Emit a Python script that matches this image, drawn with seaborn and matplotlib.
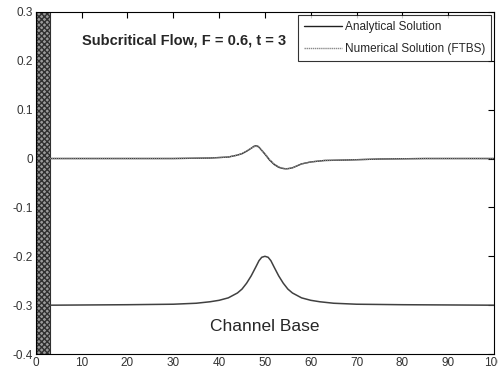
import numpy as np
import pandas as pd
import matplotlib
matplotlib.use("Agg")
import matplotlib.pyplot as plt
import seaborn as sns
from matplotlib.ticker import FuncFormatter

# Channel base (bed) profile
bed_x = [3, 20, 30, 35, 38, 40, 42, 44, 45, 46, 47, 48, 48.7, 49.3, 50,
         50.7, 51.3, 52, 53, 54, 55, 56, 58, 60, 62, 65, 70, 80, 100]
bed_y = [-0.300, -0.299, -0.298, -0.296, -0.293, -0.290, -0.285, -0.275, -0.267,
         -0.255, -0.240, -0.222, -0.209, -0.202, -0.200, -0.202, -0.209, -0.222,
         -0.240, -0.255, -0.267, -0.275, -0.285, -0.290, -0.293, -0.296, -0.298,
         -0.299, -0.300]

# Free surface perturbation
surf_x = [3, 30, 38, 42, 44, 45, 46, 47, 47.6, 48, 48.5, 49, 50, 51, 52, 53, 54,
          54.6, 55.2, 56, 57, 58, 60, 63, 68, 75, 85, 100]
analytical_y = [0.0, 0.0, 0.001, 0.003, 0.007, 0.010, 0.015, 0.021, 0.025, 0.026,
                0.025, 0.020, 0.009, -0.003, -0.012, -0.018, -0.0205, -0.021,
                -0.0205, -0.019, -0.015, -0.011, -0.007, -0.004, -0.003, -0.001,
                0.0, 0.0]
numerical_y = [0.0, 0.0, 0.001, 0.003, 0.007, 0.010, 0.015, 0.021, 0.024, 0.025,
               0.024, 0.020, 0.010, -0.002, -0.011, -0.017, -0.020, -0.021,
               -0.0205, -0.019, -0.015, -0.011, -0.007, -0.004, -0.003, -0.001,
               0.0, 0.0]

xticks = list(range(0, 101, 10))
yticks = [-0.4, -0.3, -0.2, -0.1, 0.0, 0.1, 0.2, 0.3]

sns.set_style("white")
plt.rcParams['font.family'] = ['Liberation Sans', 'DejaVu Sans']

fig = plt.figure(figsize=(4.98, 3.70), dpi=100)
ax = fig.add_axes([0.072, 0.043, 0.920, 0.925])

# wall
ax.axvspan(0, 3, facecolor='#9a9a9a', edgecolor='#303030', hatch='xxxxxx', linewidth=0.8, zorder=1)

df_surf = pd.DataFrame({'x': surf_x, 'Analytical Solution': analytical_y,
                        'Numerical Solution (FTBS)': numerical_y})
sns.lineplot(x='x', y='Analytical Solution', data=df_surf, ax=ax, color='#202020',
             linewidth=1.0, label='Analytical Solution', zorder=3)
sns.lineplot(x='x', y='Numerical Solution (FTBS)', data=df_surf, ax=ax, color='#8a8a8a',
             linewidth=1.0, linestyle=(0, (1, 0.5)), label='Numerical Solution (FTBS)', zorder=4)

df_bed = pd.DataFrame({'x': bed_x, 'y': bed_y})
sns.lineplot(x='x', y='y', data=df_bed, ax=ax, color='#404040', linewidth=1.1, zorder=3)

ax.set_xlim(0, 100)
ax.set_ylim(-0.4, 0.3)
ax.set_xticks(xticks)
ax.set_yticks(yticks)
ax.yaxis.set_major_formatter(FuncFormatter(lambda v, p: '0' if abs(v) < 1e-9 else f'{v:.1f}'))
ax.set_xlabel('')
ax.set_ylabel('')
ax.tick_params(direction='in', length=4, width=0.8, top=True, right=True,
               labelsize=8.5, colors='black', labelcolor='#333333', pad=2)
for s in ax.spines.values():
    s.set_color('black')
    s.set_linewidth(0.8)

ax.text(10.0, 0.241, 'Subcritical Flow, F = 0.6, t = 3', fontsize=10.5, fontweight='bold',
        ha='left', va='center')
ax.text(50, -0.343, 'Channel Base', fontsize=12.5, ha='center', va='center')

leg = ax.legend(loc='upper right', fontsize=8.5, frameon=True, fancybox=False,
                edgecolor='black', handlelength=3.2, borderaxespad=0.25,
                borderpad=0.5, labelspacing=0.85, handletextpad=0.25)
leg.get_frame().set_linewidth(0.8)

fig.savefig('out.png', dpi=100)
